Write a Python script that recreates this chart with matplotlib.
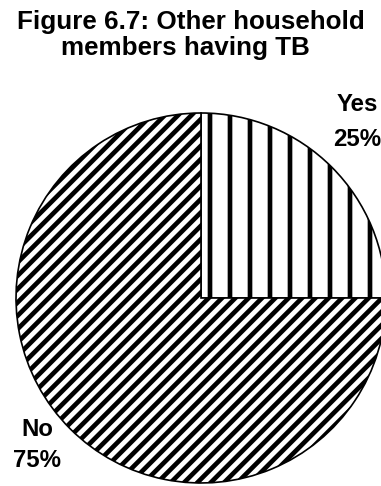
import matplotlib
matplotlib.use("Agg")
import matplotlib.pyplot as plt

plt.rcParams['font.family'] = ['Liberation Sans', 'DejaVu Sans']
plt.rcParams['hatch.linewidth'] = 2.8

# survey answers
labels = ['Yes', 'No']
shares = [25, 75]
hatches = ['|', '///']

title_lines = ['Figure 6.7: Other household', 'members having TB']

W, H, DPI = 381, 486, 120
fig = plt.figure(figsize=(W / DPI, H / DPI), dpi=DPI)
ax = fig.add_axes([0, 0, 1, 1])

wedges, _ = ax.pie(shares, startangle=90, counterclock=False,
                   center=(201, 188), radius=185,
                   colors=['white', 'white'],
                   wedgeprops=dict(edgecolor='black', linewidth=1.0))
for w, h in zip(wedges, hatches):
    w.set_hatch(h)

# work in pixel units, origin bottom-left
ax.set_xlim(0, W)
ax.set_ylim(0, H)
ax.set_aspect('auto')
ax.axis('off')

lab_kw = dict(fontsize=14.4, fontweight='bold', ha='center', va='baseline')
ax.text(357, H - 111, labels[0], **lab_kw)
ax.text(357, H - 146, f'{shares[0]}%', **lab_kw)
ax.text(37, H - 436, labels[1], **lab_kw)
ax.text(37, H - 467, f'{shares[1]}%', **lab_kw)

ttl_kw = dict(fontsize=15.6, fontweight='bold', ha='center', va='baseline')
ax.text(191, H - 29, title_lines[0], **ttl_kw)
ax.text(185, H - 55, title_lines[1], **ttl_kw)

fig.savefig('out.png', dpi=DPI)
